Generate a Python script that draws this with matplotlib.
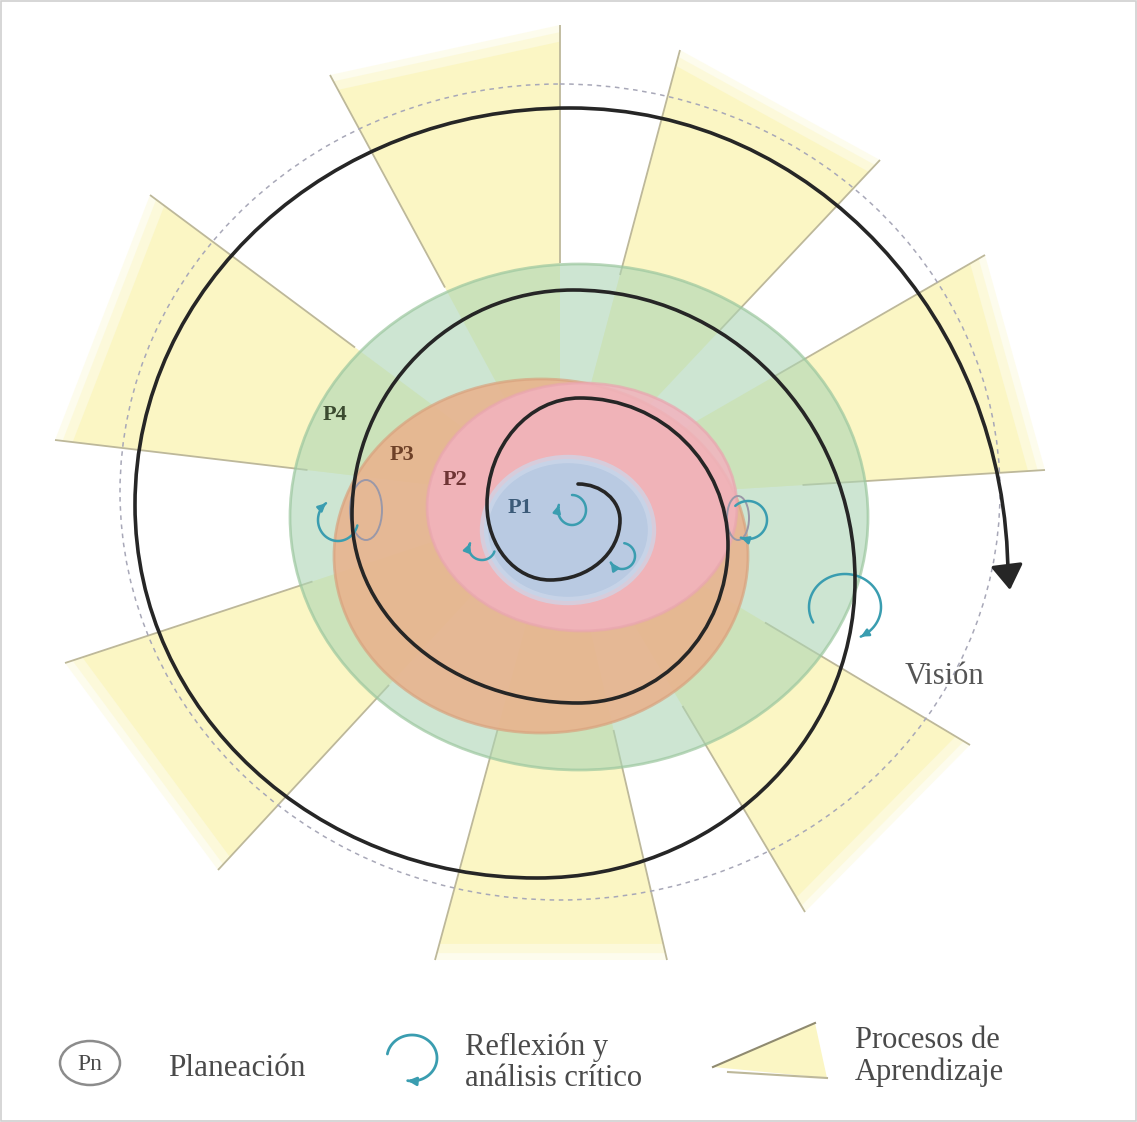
import matplotlib
matplotlib.use("Agg")
import matplotlib.pyplot as plt
import numpy as np
from matplotlib.patches import Polygon, Ellipse, Rectangle, PathPatch
from matplotlib.path import Path

# ---------------- data (image pixel coordinates) ----------------
CENTER = (560, 500)
# outer corners of the yellow "Procesos de Aprendizaje" wedges
wedge_corner_a = [(330, 75), (680, 50), (985, 255), (970, 745), (667, 960), (218, 870), (55, 440)]
wedge_corner_b = [(560, 25), (880, 160), (1045, 470), (805, 912), (435, 960), (65, 663), (150, 195)]

# nested planning stages P4..P1 (ellipses)
stage_names = ["P4", "P3", "P2", "P1"]
stage_cx = [579, 541, 582, 568]
stage_cy = [517, 556, 507, 530]
stage_rx = [289, 207, 155, 84]
stage_ry = [253, 177, 124, 71]
stage_colors = ["#acd5b4", "#eab18b", "#f2b3bf", "#b0cfea"]
stage_alpha = [0.6, 0.85, 0.85, 0.85]
stage_label_x = [335, 402, 455, 520]
stage_label_y = [415, 455, 480, 508]
stage_label_colors = ["#3b4a30", "#6e4128", "#6e3434", "#3b5a78"]

# dashed vision circle
vision_cx, vision_cy, vision_rx, vision_ry = 560, 492, 440, 408

# spiral extremal points, clockwise: top, right, bottom, left, ...
spiral_x = [578, 620, 550, 487, 580, 728, 578, 352, 573, 855, 537, 135, 570, 1008]
spiral_y = [484, 520, 580, 505, 398, 545, 703, 515, 290, 580, 878, 505, 108, 578]

# reflection loops: center x, center y, rx, ry, start angle, end angle
loop_cx = [338, 482, 572, 622, 748, 845]
loop_cy = [520, 548, 510, 556, 520, 607]
loop_rx = [20, 13, 14, 13, 19, 36]
loop_ry = [21, 12, 15, 13, 19, 33]
loop_t0 = [15, 17, -90, -80, 228, 152]
loop_t1 = [233, 203, 200, 150, 472, 424]

# planning (Pn) marks near loops
plan_cx = [366, 738]
plan_cy = [510, 518]
plan_rx = [16, 11]
plan_ry = [30, 22]

# ---------------- figure ----------------
fig = plt.figure(figsize=(11.37, 11.22), dpi=100)
ax = fig.add_axes([0, 0, 1, 1])
ax.set_xlim(0, 1137)
ax.set_ylim(1122, 0)
ax.axis("off")

YELLOW = "#fbf6c4"
LINE = "#bdb89a"
cx0, cy0 = CENTER

def scaled(p, s):
    return (cx0 + s * (p[0] - cx0), cy0 + s * (p[1] - cy0))

# yellow wedges with soft outer edge
for a, b in zip(wedge_corner_a, wedge_corner_b):
    for s, al in ((1.0, 0.3), (0.985, 0.45), (0.965, 1.0)):
        ax.add_patch(Polygon([CENTER, scaled(a, s), scaled(b, s)], closed=True,
                             facecolor=YELLOW, alpha=al, edgecolor="none", zorder=1))
    for p in (a, b):
        xi, yi = scaled(p, 0.5)
        ax.plot([xi, p[0]], [yi, p[1]], color=LINE, lw=1.3, zorder=2,
                solid_capstyle="butt")

# dashed circle
ax.add_patch(Ellipse((vision_cx, vision_cy), 2 * vision_rx, 2 * vision_ry,
                     facecolor="none", edgecolor="#a8a8b8", lw=1.1,
                     linestyle=(0, (3, 3)), zorder=2.5))

# stage ellipses
edge_cols = ["#9cc79f", "#d9a27e", "#e9a6af", "#cdd8ea"]
edge_lw = [2, 2, 2, 6]
for i in range(4):
    ax.add_patch(Ellipse((stage_cx[i], stage_cy[i]), 2 * stage_rx[i], 2 * stage_ry[i],
                         facecolor=stage_colors[i], alpha=stage_alpha[i],
                         edgecolor="none", zorder=3 + i))
    ax.add_patch(Ellipse((stage_cx[i], stage_cy[i]), 2 * stage_rx[i], 2 * stage_ry[i],
                         facecolor="none", edgecolor=edge_cols[i], lw=edge_lw[i],
                         alpha=0.7, zorder=3 + i))

# planning marks
for i in range(len(plan_cx)):
    ax.add_patch(Ellipse((plan_cx[i], plan_cy[i]), 2 * plan_rx[i], 2 * plan_ry[i],
                         facecolor="none", edgecolor="#9a98a8", lw=1.4, zorder=8))

# reflection loops
CYAN = "#3a9db0"
def draw_loop(x, y, rx, ry, t0, t1, lw=1.8, ms=11):
    t = np.radians(np.linspace(t0, t1, 80))
    xs = x + rx * np.cos(t)
    ys = y + ry * np.sin(t)
    ax.plot(xs, ys, color=CYAN, lw=lw, zorder=9, solid_capstyle="round")
    ax.annotate("", xy=(xs[-1], ys[-1]), xytext=(xs[-4], ys[-4]),
                arrowprops=dict(arrowstyle="-|>", color=CYAN, lw=lw,
                                mutation_scale=ms, shrinkA=0, shrinkB=0),
                zorder=9)

for i in range(len(loop_cx)):
    draw_loop(loop_cx[i], loop_cy[i], loop_rx[i], loop_ry[i], loop_t0[i], loop_t1[i])

# spiral (cubic beziers through extremal points)
k = 0.5523
verts = [(spiral_x[0], spiral_y[0])]
codes = [Path.MOVETO]
for i in range(len(spiral_x) - 1):
    ax_, ay_ = spiral_x[i], spiral_y[i]
    bx_, by_ = spiral_x[i + 1], spiral_y[i + 1]
    if i % 2 == 0:   # start horizontal tangent (top/bottom), end vertical
        p1 = (ax_ + k * (bx_ - ax_), ay_)
        p2 = (bx_, by_ + k * (ay_ - by_))
    else:            # start vertical tangent (left/right), end horizontal
        p1 = (ax_, ay_ + k * (by_ - ay_))
        p2 = (bx_ + k * (ax_ - bx_), by_)
    verts += [p1, p2, (bx_, by_)]
    codes += [Path.CURVE4] * 3
ax.add_patch(PathPatch(Path(verts, codes), facecolor="none", edgecolor="#262626",
                       lw=2.6, zorder=10, capstyle="round"))
ax.annotate("", xy=(spiral_x[-1] + 2, spiral_y[-1] + 12),
            xytext=(spiral_x[-1], spiral_y[-1] - 4),
            arrowprops=dict(arrowstyle="-|>,head_length=0.7,head_width=0.45",
                            color="#262626", lw=2.4, mutation_scale=22,
                            shrinkA=0, shrinkB=0), zorder=10)

# labels
SERIF = ["Liberation Serif", "DejaVu Serif"]
for i in range(4):
    ax.text(stage_label_x[i], stage_label_y[i], stage_names[i], fontsize=16,
            family=SERIF, fontweight="bold", color=stage_label_colors[i],
            ha="center", va="center", zorder=11)
ax.text(905, 676, "Visión", fontsize=22, family=SERIF, color="#555555",
        ha="left", va="center", zorder=11)

# ---------------- legend ----------------
TXT = "#4a4a4a"
ax.add_patch(Ellipse((90, 1063), 60, 44, facecolor="none", edgecolor="#8c8c8c", lw=1.8))
ax.text(90, 1064, "Pn", fontsize=17, family=SERIF, color=TXT, ha="center", va="center")
ax.text(168, 1068, "Planeación", fontsize=22.5, family=SERIF, color=TXT, ha="left", va="center")

draw_loop(412, 1058, 25, 23, 190, 460, lw=2.0, ms=12)
ax.text(465, 1047, "Reflexión y", fontsize=22, family=SERIF, color=TXT, ha="left", va="center")
ax.text(465, 1078, "análisis crítico", fontsize=22, family=SERIF, color=TXT, ha="left", va="center")

ax.add_patch(Polygon([(713, 1067), (815, 1023), (827, 1078)], closed=True,
                     facecolor=YELLOW, edgecolor="none"))
ax.plot([713, 815], [1067, 1023], color="#8f8a70", lw=1.5)
ax.plot([728, 827], [1072, 1078], color="#bdb89a", lw=1.5)
ax.text(855, 1040, "Procesos de", fontsize=22, family=SERIF, color=TXT, ha="left", va="center")
ax.text(855, 1072, "Aprendizaje", fontsize=22, family=SERIF, color=TXT, ha="left", va="center")

# frame
ax.add_patch(Rectangle((1, 1), 1135, 1120, facecolor="none", edgecolor="#d0d0d0", lw=1.2))

fig.savefig("out.png", dpi=100)
